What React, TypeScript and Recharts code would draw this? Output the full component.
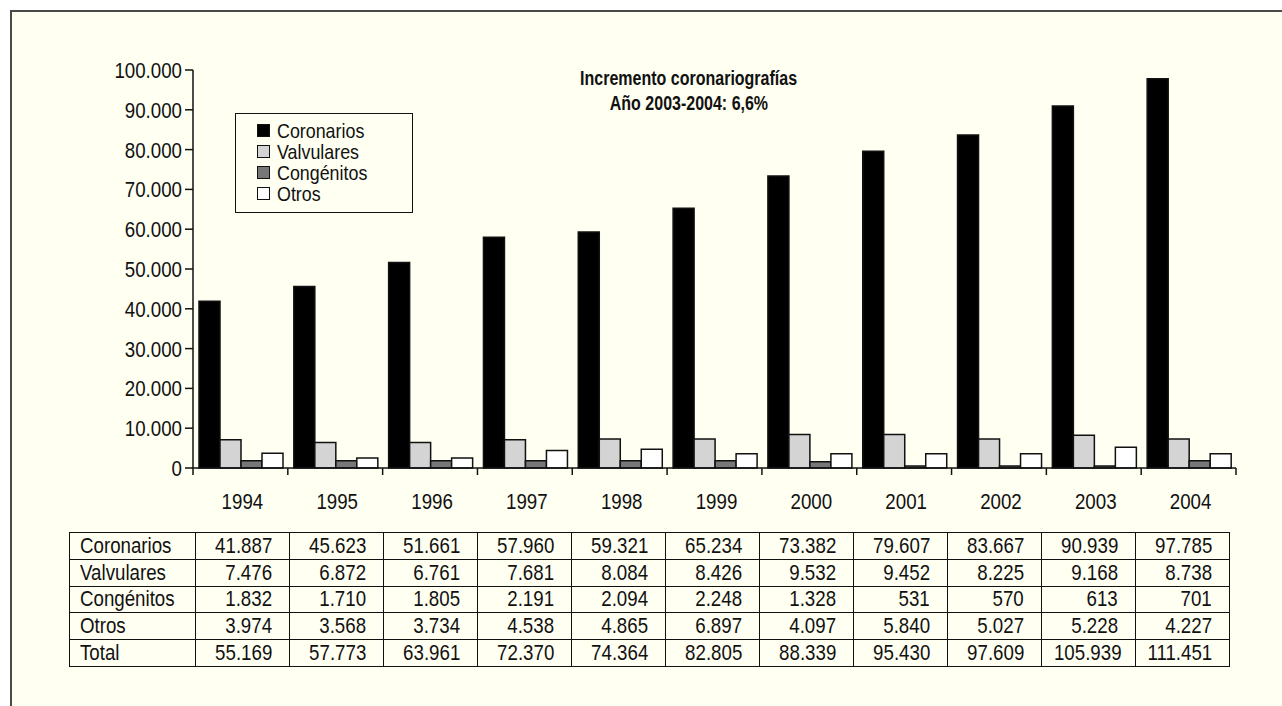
import React from "react";
import { BarChart, Bar, XAxis, YAxis, Legend } from "recharts";

const years = ["1994", "1995", "1996", "1997", "1998", "1999", "2000", "2001", "2002", "2003", "2004"];

// bar heights
const coronariosBars = [41887, 45623, 51661, 57960, 59321, 65234, 73382, 79607, 83667, 90939, 97785];
const valvularesBars = [7100, 6400, 6400, 7100, 7300, 7300, 8400, 8400, 7300, 8200, 7300];
const congenitosBars = [1800, 1800, 1800, 1800, 1800, 1800, 1600, 500, 500, 500, 1800];
const otrosBars = [3700, 2500, 2500, 4400, 4700, 3600, 3600, 3600, 3600, 5200, 3600];

// values printed in the table under the chart
const coronariosTable = [41887, 45623, 51661, 57960, 59321, 65234, 73382, 79607, 83667, 90939, 97785];
const valvularesTable = [7476, 6872, 6761, 7681, 8084, 8426, 9532, 9452, 8225, 9168, 8738];
const congenitosTable = [1832, 1710, 1805, 2191, 2094, 2248, 1328, 531, 570, 613, 701];
const otrosTable = [3974, 3568, 3734, 4538, 4865, 6897, 4097, 5840, 5027, 5228, 4227];
const totalTable = [55169, 57773, 63961, 72370, 74364, 82805, 88339, 95430, 97609, 105939, 111451];

const yTicks = [0, 10000, 20000, 30000, 40000, 50000, 60000, 70000, 80000, 90000, 100000];

const titleLines = ["Incremento coronariografías", "Año 2003-2004: 6,6%"];

// no condensed face is installed, so the sans gets squeezed horizontally
const FONT = '"Liberation Sans", Arial, sans-serif';
const SQUEEZE = 0.85;
const FS = 22;
const INK = "#111111";
const CREAM = "#fffff2";

const W = 1282;
const H = 530;
const M = { top: 70, right: 46, left: 0, bottom: 12 };
const Y_AXIS_W = 193;
const PLOT_LEFT = M.left + Y_AXIS_W;
const PLOT_RIGHT = W - M.right;
const BAND = (PLOT_RIGHT - PLOT_LEFT) / years.length;

const series = [
  { key: "Coronarios", fill: "#000000" },
  { key: "Valvulares", fill: "#d4d4d4" },
  { key: "Congénitos", fill: "#777777" },
  { key: "Otros", fill: "#ffffff" },
];

const data = years.map((y, i) => ({
  year: y,
  Coronarios: coronariosBars[i],
  Valvulares: valvularesBars[i],
  "Congénitos": congenitosBars[i],
  Otros: otrosBars[i],
}));

const tableRows = [
  { label: "Coronarios", values: coronariosTable },
  { label: "Valvulares", values: valvularesTable },
  { label: "Congénitos", values: congenitosTable },
  { label: "Otros", values: otrosTable },
  { label: "Total", values: totalTable },
];

const fmt = (v: number) => String(v).replace(/\B(?=(\d{3})+(?!\d))/g, ".");

function Narrow({ children, origin, squeeze = SQUEEZE }: { children: React.ReactNode; origin: string; squeeze?: number }) {
  return (
    <span style={{ display: "inline-block", transform: `scaleX(${squeeze})`, transformOrigin: origin, whiteSpace: "nowrap" }}>
      {children}
    </span>
  );
}

function YearTick(props: any) {
  const { x, y, payload, index } = props;
  const left = x - BAND / 2;
  return (
    <g>
      <line x1={left} y1={y} x2={left} y2={y + 7} stroke={INK} strokeWidth={1.5} />
      {index === years.length - 1 && (
        <line x1={x + BAND / 2} y1={y} x2={x + BAND / 2} y2={y + 7} stroke={INK} strokeWidth={1.5} />
      )}
      <text
        transform={`translate(${x + 2},${y + 41}) scale(${SQUEEZE},1)`}
        textAnchor="middle"
        fill={INK}
        fontSize={FS}
        fontFamily={FONT}
      >
        {payload.value}
      </text>
    </g>
  );
}

function ValueTick(props: any) {
  const { x, y, payload } = props;
  return (
    <text
      transform={`translate(${x},${y}) scale(${SQUEEZE},1)`}
      dy="0.36em"
      textAnchor="end"
      fill={INK}
      fontSize={FS}
      fontFamily={FONT}
    >
      {fmt(payload.value)}
    </text>
  );
}

function LegendBox() {
  return (
    <div
      style={{
        border: `1.5px solid ${INK}`,
        background: CREAM,
        padding: "6px 0 8px 21px",
        fontFamily: FONT,
        fontSize: 21,
        lineHeight: "21px",
        color: INK,
        boxSizing: "border-box",
        width: 178,
      }}
    >
      {series.map((s) => (
        <div key={s.key} style={{ display: "flex", alignItems: "center", height: 21 }}>
          <span
            style={{
              display: "inline-block",
              width: 11,
              height: 11,
              background: s.fill,
              border: `1.5px solid ${INK}`,
              marginRight: 7,
              flex: "none",
            }}
          />
          <Narrow origin="left center">{s.key}</Narrow>
        </div>
      ))}
    </div>
  );
}

export default function App() {
  return (
    <div style={{ position: "absolute", left: 0, top: 0, width: 1282, height: 706, background: "#ffffff", overflow: "hidden" }}>
      <div
        style={{
          position: "absolute",
          left: 10,
          top: 10,
          width: 1300,
          height: 720,
          background: CREAM,
          borderLeft: "2px solid #4a4a4a",
          borderTop: "2px solid #4a4a4a",
        }}
      />
      <div
        style={{
          position: "absolute",
          left: 489,
          top: 66,
          width: 400,
          textAlign: "center",
          fontFamily: FONT,
          fontWeight: "bold",
          fontSize: 20,
          lineHeight: "25px",
          color: INK,
        }}
      >
        {titleLines.map((t) => (
          <div key={t}>
            <Narrow origin="center center" squeeze={0.8}>{t}</Narrow>
          </div>
        ))}
      </div>
      <div style={{ position: "absolute", left: 0, top: 0 }}>
        <BarChart width={W} height={H} data={data} margin={M} barCategoryGap={6} barGap={0}>
          <XAxis
            dataKey="year"
            height={50}
            tick={<YearTick />}
            tickLine={false}
            tickSize={0}
            tickMargin={0}
            axisLine={{ stroke: INK, strokeWidth: 1.5 }}
            interval={0}
          />
          <YAxis
            width={Y_AXIS_W}
            domain={[0, 100000]}
            ticks={yTicks}
            tick={<ValueTick />}
            tickSize={8}
            tickMargin={3}
            tickLine={{ stroke: INK, strokeWidth: 1.5 }}
            axisLine={{ stroke: INK, strokeWidth: 1.5 }}
            interval={0}
          />
          <Legend
            layout="vertical"
            align="center"
            verticalAlign="middle"
            content={<LegendBox />}
            wrapperStyle={{ left: 235, top: 113, width: 178 }}
          />
          {series.map((s) => (
            <Bar
              key={s.key}
              dataKey={s.key}
              fill={s.fill}
              stroke={INK}
              strokeWidth={1.5}
              isAnimationActive={false}
            />
          ))}
        </BarChart>
      </div>
      <table
        style={{
          position: "absolute",
          left: 69,
          top: 532,
          borderCollapse: "collapse",
          fontFamily: FONT,
          fontSize: FS,
          color: INK,
          tableLayout: "fixed",
          width: 126 + 94 * years.length,
        }}
      >
        <colgroup>
          <col style={{ width: 126 }} />
          {years.map((y) => (
            <col key={y} style={{ width: 94 }} />
          ))}
        </colgroup>
        <tbody>
          {tableRows.map((r) => (
            <tr key={r.label} style={{ height: 26.8 }}>
              <td style={{ border: `1.5px solid ${INK}`, padding: "0 0 0 10px", lineHeight: 1, whiteSpace: "nowrap" }}>
                <Narrow origin="left center">{r.label}</Narrow>
              </td>
              {r.values.map((v, i) => (
                <td
                  key={i}
                  style={{ border: `1.5px solid ${INK}`, padding: "0 17px 0 0", textAlign: "right", lineHeight: 1 }}
                >
                  <Narrow origin="right center">{fmt(v)}</Narrow>
                </td>
              ))}
            </tr>
          ))}
        </tbody>
      </table>
    </div>
  );
}
